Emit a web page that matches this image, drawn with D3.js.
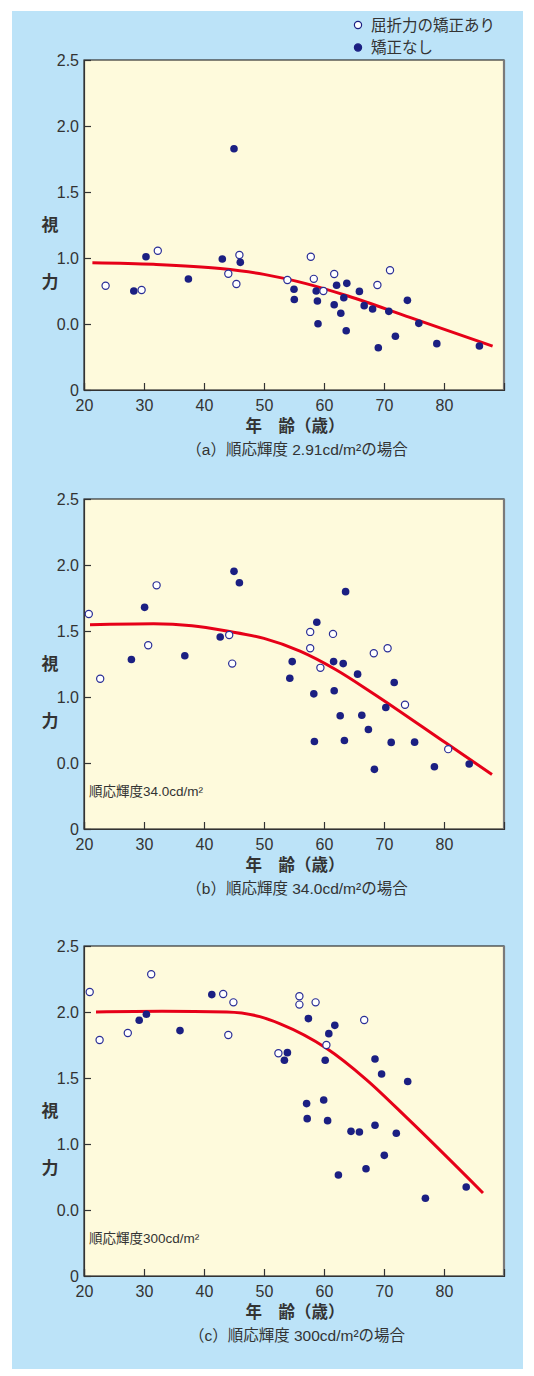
<!DOCTYPE html>
<html>
<head>
<meta charset="utf-8">
<script src="https://cdn.jsdelivr.net/npm/d3@7"></script>
<style>
  body { margin: 0; background: #fff; }
  text { font-family: "Liberation Sans", "Noto Sans CJK JP", sans-serif; fill: #333; }
  .jp { font-family: "Noto Sans CJK JP", sans-serif; }
</style>
</head>
<body>
<svg id="chart" width="534" height="1376"></svg>
<script>
// Data (age in years, visual acuity)
const yTickValues = [0, 0.5, 1.0, 1.5, 2.0, 2.5];
const yTickLabels = ["0", "0.0", "1.0", "1.5", "2.0", "2.5"];
const xTickValues = [20, 30, 40, 50, 60, 70, 80];

const openA = [[23.6,0.79],[29.6,0.758],[32.3,1.055],[44.05,0.881],[45.4,0.803],[45.9,1.023],[53.9,0.833],[57.8,1.01],[58.3,0.842],[59.9,0.75],[61.7,0.879],[68.9,0.795],[71,0.907]];
const filledA = [[28.3,0.75],[30.33,1.01],[37.4,0.841],[43.05,0.992],[45,1.828],[46.05,0.967],[55,0.763],[55.05,0.686],[58.7,0.75],[58.9,0.674],[59,0.502],[61.7,0.646],[62.1,0.793],[62.8,0.581],[63.3,0.699],[63.7,0.449],[63.8,0.808],[65.9,0.747],[66.7,0.639],[68.1,0.614],[69.05,0.32],[70.8,0.596],[71.9,0.407],[73.9,0.679],[75.8,0.505],[78.8,0.351],[85.9,0.333]];
const curveA = [[21.4,0.964],[31.6,0.952],[42.7,0.92],[50,0.876],[57,0.806],[64,0.712],[74.3,0.55],[88.1,0.333]];

const openB = [[20.8,1.629],[22.7,1.138],[30.7,1.392],[32.1,1.846],[44.2,1.47],[44.7,1.253],[57.7,1.493],[57.7,1.369],[59.4,1.221],[61.5,1.478],[68.3,1.331],[70.6,1.369],[73.5,0.941],[80.7,0.605]];
const filledB = [[27.9,1.284],[30.1,1.679],[36.8,1.312],[42.7,1.455],[45,1.952],[45.9,1.866],[54.3,1.142],[54.7,1.268],[58.3,1.024],[58.4,0.663],[58.8,1.566],[61.6,1.268],[61.7,1.047],[62.7,0.858],[63.2,1.253],[63.4,0.671],[63.6,1.798],[65.6,1.173],[66.3,0.862],[67.4,0.754],[68.4,0.452],[70.3,0.921],[71.2,0.656],[71.7,1.11],[75.1,0.658],[78.4,0.472],[84.2,0.492]];
const curveB = [[21,1.548],[31.6,1.555],[38,1.54],[43.8,1.5],[50,1.444],[56,1.348],[62,1.207],[68,1.033],[80.4,0.649],[88,0.413]];

const openC = [[20.95,2.152],[22.6,1.788],[27.3,1.841],[31.2,2.286],[43.2,2.136],[44.05,1.826],[44.9,2.073],[52.4,1.687],[55.9,2.119],[55.9,2.056],[58.6,2.073],[60.4,1.75],[66.7,1.939]];
const filledC = [[29.2,1.937],[30.4,1.983],[36,1.859],[41.3,2.132],[53.4,1.634],[53.9,1.692],[57.1,1.306],[57.2,1.192],[57.4,1.95],[59.95,1.333],[60.2,1.634],[60.6,1.177],[60.8,1.836],[61.8,1.899],[62.4,0.765],[64.5,1.096],[65.9,1.091],[67,0.813],[68.5,1.142],[68.5,1.644],[69.6,1.53],[70.05,0.914],[72.05,1.081],[73.95,1.473],[76.9,0.589],[83.7,0.674]];
const curveC = [[22,2.0],[33,2.005],[43.8,2.0],[49.3,1.965],[52.7,1.91],[60.4,1.725],[67,1.49],[74,1.19],[86.5,0.629]];

const legendLabels = ["屈折力の矯正あり", "矯正なし"];

const panels = [
  { top: 60,  open: openA, filled: filledA, curve: curveA, caption: "（a）順応輝度 2.91cd/m²の場合", inset: null },
  { top: 499, open: openB, filled: filledB, curve: curveB, caption: "（b）順応輝度 34.0cd/m²の場合", inset: "順応輝度34.0cd/m²" },
  { top: 946, open: openC, filled: filledC, curve: curveC, caption: "（c）順応輝度 300cd/m²の場合", inset: "順応輝度300cd/m²" }
];

const navy = "#1b1f82";
const svg = d3.select("#chart");

// blue background
svg.append("rect").attr("x", 12).attr("y", 11).attr("width", 511).attr("height", 1358).attr("fill", "#bce3f8");

// legend
legendLabels.forEach((t, i) => {
  const y = 25 + i * 22.5;
  svg.append("circle").attr("cx", 358).attr("cy", y).attr("r", 3.6)
    .attr("fill", i === 0 ? "#fff" : navy).attr("stroke", navy).attr("stroke-width", 1.2);
  svg.append("text").attr("class", "jp").attr("x", 371).attr("y", y).attr("dy", "0.36em")
    .attr("font-size", 15.5).text(t);
});

const x = d3.scaleLinear().domain([20, 90]).range([84, 504]);

panels.forEach(p => {
  const h = 330;
  const y = d3.scaleLinear().domain([0, 2.5]).range([p.top + h, p.top]);
  const g = svg.append("g");

  g.append("rect").attr("x", 84).attr("y", p.top).attr("width", 420).attr("height", h)
    .attr("fill", "#fefadc").attr("stroke", "#333").attr("stroke-width", 1.2);
  g.append("line").attr("x1", 504).attr("x2", 504).attr("y1", p.top).attr("y2", p.top + h)
    .attr("stroke", "#7a7a7a").attr("stroke-width", 2.2);

  const yAxis = d3.axisLeft(y).tickValues(yTickValues)
    .tickFormat((d, i) => yTickLabels[i]).tickSize(-7).tickPadding(5);
  const gy = g.append("g").attr("transform", "translate(84,0)").call(yAxis);
  gy.select(".domain").attr("stroke", "#333").attr("stroke-width", 1.2);
  gy.selectAll(".tick line").attr("stroke", "#333").attr("stroke-width", 1.2);
  gy.selectAll(".tick text").attr("font-size", 16).attr("fill", "#333")
    .attr("font-family", "Liberation Sans, sans-serif");

  const xAxis = d3.axisBottom(x).tickValues(xTickValues).tickSize(-7).tickPadding(10);
  const gx = g.append("g").attr("transform", `translate(0,${p.top + h})`).call(xAxis);
  gx.select(".domain").attr("stroke", "#333").attr("stroke-width", 1.2);
  gx.selectAll(".tick line").attr("stroke", "#333").attr("stroke-width", 1.2);
  gx.selectAll(".tick text").attr("font-size", 16).attr("fill", "#333")
    .attr("font-family", "Liberation Sans, sans-serif");

  // axis titles
  g.append("text").attr("class", "jp").attr("x", 50).attr("y", y(1.25)).attr("dy", "0.36em")
    .attr("text-anchor", "middle").attr("font-size", 17).attr("font-weight", "bold").text("視");
  g.append("text").attr("class", "jp").attr("x", 50).attr("y", y(0.82)).attr("dy", "0.36em")
    .attr("text-anchor", "middle").attr("font-size", 17).attr("font-weight", "bold").text("力");
  g.append("text").attr("class", "jp").attr("x", 295).attr("y", p.top + h + 36).attr("dy", "0.36em")
    .attr("text-anchor", "middle").attr("font-size", 16.5).attr("font-weight", "bold").text("年　齢（歳）");
  g.append("text").attr("x", 297).attr("y", p.top + h + 59).attr("dy", "0.36em")
    .attr("text-anchor", "middle").attr("font-size", 15.5).text(p.caption);
  if (p.inset) {
    g.append("text").attr("x", 89).attr("y", p.top + h - 38).attr("dy", "0.36em")
      .attr("font-size", 13.5).text(p.inset);
  }

  // fitted curve
  const line = d3.line().x(d => x(d[0])).y(d => y(d[1])).curve(d3.curveMonotoneX);
  g.append("path").datum(p.curve).attr("d", line).attr("fill", "none")
    .attr("stroke", "#e60018").attr("stroke-width", 3);

  g.selectAll(".filled").data(p.filled).enter().append("circle")
    .attr("cx", d => x(d[0])).attr("cy", d => y(d[1])).attr("r", 3.8).attr("fill", navy);
  g.selectAll(".open").data(p.open).enter().append("circle")
    .attr("cx", d => x(d[0])).attr("cy", d => y(d[1])).attr("r", 3.6)
    .attr("fill", "#fff").attr("stroke", "#2a2e96").attr("stroke-width", 1.2);
});
</script>
</body>
</html>
